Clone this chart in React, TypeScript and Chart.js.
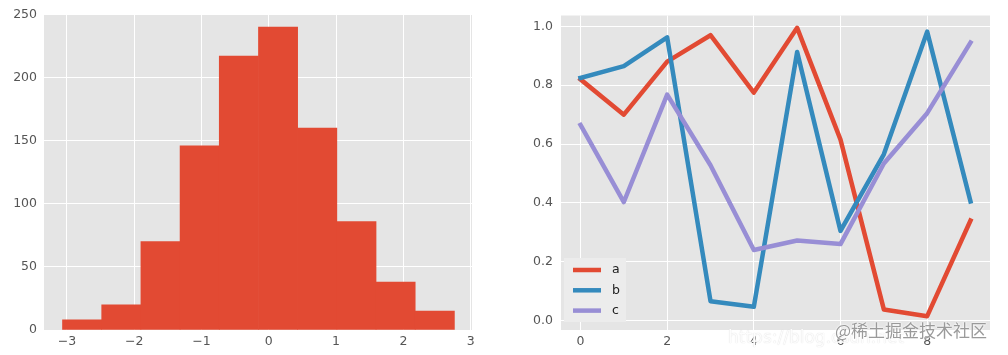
import React, { useEffect, useRef } from "react";
import { Chart, registerables } from "chart.js";

Chart.register(...registerables);

// ---------- Histogram data ----------
const binEdges = [-3.065, -2.483, -1.9, -1.318, -0.736, -0.153, 0.429, 1.012, 1.594, 2.176, 2.759];
const binCounts = [8, 20, 70, 146, 217, 240, 160, 86, 38, 15];
const histXTicks = [-3, -2, -1, 0, 1, 2, 3];
const histYTicks = [0, 50, 100, 150, 200, 250];

// ---------- Line chart data ----------
const lineX = [0, 1, 2, 3, 4, 5, 6, 7, 8, 9];
const seriesA = [0.82, 0.7, 0.88, 0.97, 0.775, 0.995, 0.615, 0.038, 0.015, 0.34];
const seriesB = [0.825, 0.865, 0.963, 0.066, 0.047, 0.913, 0.305, 0.565, 0.982, 0.405];
const seriesC = [0.665, 0.403, 0.768, 0.528, 0.24, 0.272, 0.26, 0.534, 0.705, 0.945];
const seriesLabels = ["a", "b", "c"];
const lineXTicks = [0, 2, 4, 6, 8];
const lineYTicks = [0, 0.2, 0.4, 0.6, 0.8, 1.0];

const COLORS = ["#E24A33", "#348ABD", "#988ED5"];
const BG = "#E5E5E5";
const TICK_COLOR = "#555555";
const FONT_FAMILY = "'DejaVu Sans', sans-serif";
const TICK_FONT = { family: FONT_FAMILY, size: 12.5 };

const minusFmt = (v: number, digits: number) => {
  const s = Math.abs(v).toFixed(digits);
  return v < 0 ? "\u2212" + s : s;
};

const plotBg = {
  id: "plotBg",
  beforeDraw(chart: any) {
    const { ctx, chartArea } = chart;
    ctx.save();
    ctx.fillStyle = BG;
    ctx.fillRect(chartArea.left, chartArea.top, chartArea.right - chartArea.left, chartArea.bottom - chartArea.top);
    ctx.restore();
  },
};

const insetLegend = {
  id: "insetLegend",
  afterDraw(chart: any) {
    if (chart.config.type !== "line") return;
    const { ctx, chartArea } = chart;
    const boxW = 62;
    const boxH = 64;
    const x0 = chartArea.left + 3;
    const y0 = chartArea.bottom - 8 - boxH;
    ctx.save();
    ctx.fillStyle = "#ECECEC";
    ctx.fillRect(x0, y0, boxW, boxH);
    chart.data.datasets.forEach((ds: any, i: number) => {
      const y = y0 + 12 + i * 20.3;
      ctx.strokeStyle = ds.borderColor;
      ctx.lineWidth = 4.5;
      ctx.lineCap = "butt";
      ctx.beginPath();
      ctx.moveTo(x0 + 9, y);
      ctx.lineTo(x0 + 37, y);
      ctx.stroke();
      ctx.fillStyle = "#222222";
      ctx.font = `12.5px ${FONT_FAMILY}`;
      ctx.textBaseline = "middle";
      ctx.textAlign = "left";
      ctx.fillText(ds.label, x0 + 48, y);
    });
    ctx.restore();
  },
};

function makeAxis(
  min: number,
  max: number,
  ticks: number[],
  digits: number,
  isX: boolean,
  fit: number,
  pad: number
) {
  return {
    type: "linear",
    min,
    max,
    offset: false,
    border: { display: false },
    grid: { color: "#FFFFFF", lineWidth: 1, drawTicks: false, offset: false },
    afterBuildTicks: (scale: any) => {
      scale.ticks = ticks.map((v) => ({ value: v }));
    },
    afterFit: (scale: any) => {
      if (isX) scale.height = fit;
      else scale.width = fit;
    },
    ticks: {
      color: TICK_COLOR,
      font: TICK_FONT,
      padding: pad,
      maxRotation: 0,
      autoSkip: false,
      callback: (v: any) => minusFmt(Number(v), digits),
    },
  };
}

function HistChart() {
  const ref = useRef<HTMLCanvasElement | null>(null);
  useEffect(() => {
    if (!ref.current) return;
    const centers = binCounts.map((_, i) => (binEdges[i] + binEdges[i + 1]) / 2);
    const chart = new Chart(ref.current, {
      type: "bar",
      data: {
        datasets: [
          {
            data: centers.map((x, i) => ({ x, y: binCounts[i] })),
            backgroundColor: COLORS[0],
            borderWidth: 0,
            barPercentage: 1,
            categoryPercentage: 1,
          } as any,
        ],
      },
      options: {
        responsive: false,
        animation: false,
        layout: { padding: { top: 11, right: 32, left: 0, bottom: 0 } },
        plugins: { legend: { display: false }, tooltip: { enabled: false } },
        scales: {
          x: makeAxis(-3.34, 3.02, histXTicks, 0, true, 25, 4) as any,
          y: makeAxis(0, 250, histYTicks, 0, false, 44, 7) as any,
        },
      },
      plugins: [plotBg],
    });
    return () => chart.destroy();
  }, []);
  return <canvas ref={ref} width={504} height={355} style={{ display: "block", width: 504, height: 355 }} />;
}

function LineChart() {
  const ref = useRef<HTMLCanvasElement | null>(null);
  useEffect(() => {
    if (!ref.current) return;
    const all = [seriesA, seriesB, seriesC];
    const chart = new Chart(ref.current, {
      type: "line",
      data: {
        datasets: all.map((vals, k) => ({
          label: seriesLabels[k],
          data: lineX.map((x, i) => ({ x, y: vals[i] })),
          borderColor: COLORS[k],
          backgroundColor: COLORS[k],
          borderWidth: 4.5,
          pointRadius: 0,
          fill: false,
          tension: 0,
          borderJoinStyle: "round",
          borderCapStyle: "square",
          order: 3 - k,
        })) as any,
      },
      options: {
        responsive: false,
        animation: false,
        layout: { padding: { top: 12, right: 18, left: 0, bottom: 0 } },
        plugins: { legend: { display: false }, tooltip: { enabled: false } },
        scales: {
          x: makeAxis(-0.45, 9.45, lineXTicks, 0, true, 25, 4) as any,
          y: makeAxis(-0.032, 1.037, lineYTicks, 1, false, 57, 8) as any,
        },
      },
      plugins: [plotBg, insetLegend],
    });
    return () => chart.destroy();
  }, []);
  return <canvas ref={ref} width={504} height={355} style={{ display: "block", width: 504, height: 355 }} />;
}

export default function App() {
  return (
    <div
      style={{
        position: "fixed",
        left: 0,
        top: 0,
        width: 1008,
        height: 355,
        background: "#FFFFFF",
        overflow: "hidden",
      }}
    >
      <div style={{ position: "absolute", left: 0, top: 0 }}>
        <HistChart />
      </div>
      <div style={{ position: "absolute", left: 504, top: 0 }}>
        <LineChart />
      </div>
      <div
        style={{
          position: "absolute",
          left: 728,
          top: 327,
          fontFamily: "'DejaVu Sans', sans-serif",
          fontSize: 17,
          color: "rgba(255,255,255,0.95)",
          textShadow: "0 0 1px #d0d0d0",
          whiteSpace: "nowrap",
          lineHeight: "20px",
        }}
      >
        https://blog.csdn.net
      </div>
      <div
        style={{
          position: "absolute",
          left: 835,
          top: 319,
          fontFamily: "'Noto Sans CJK SC', sans-serif",
          fontSize: 17,
          color: "#9A9A9A",
          textShadow: "0 0 2px #FFFFFF, 0 0 2px #FFFFFF",
          whiteSpace: "nowrap",
          lineHeight: "22px",
        }}
      >
        @稀土掘金技术社区
      </div>
    </div>
  );
}
